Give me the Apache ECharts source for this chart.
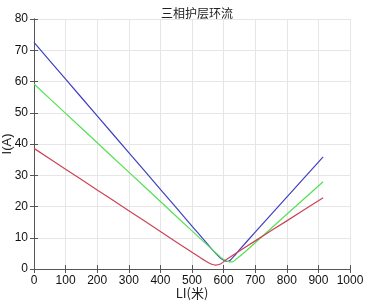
<!DOCTYPE html>
<html>
<head>
<meta charset="utf-8">
<script src="https://cdn.jsdelivr.net/npm/echarts@6/dist/echarts.min.js"></script>
<style>
  html, body { margin: 0; padding: 0; background: #fff; }
  #chart { width: 366px; height: 303px; }
</style>
</head>
<body>
<div id="chart"></div>
<script>
// 三相护层环流 数据 (LI 米, I 安)
const blueData = [[0,72.5],[100,60.75],[200,49.0],[300,37.25],[400,25.5],[500,13.75],[560,6.7],[590,3.5],[602,2.7],[612,2.4],[622,2.9],[635,4.3],[650,6.1],[700,11.8],[800,23.0],[915,35.9]];
const greenData = [[0,59.2],[100,49.8],[200,40.4],[300,31.0],[400,21.6],[500,12.2],[560,6.6],[590,3.8],[605,2.8],[618,2.3],[628,2.25],[640,3.2],[660,4.8],[700,8.4],[800,17.5],[915,27.9]];
const redData = [[0,38.6],[100,31.95],[200,25.3],[300,18.65],[400,12.0],[500,5.35],[540,2.7],[560,1.6],[575,1.25],[590,1.6],[610,3.1],[700,9.0],[800,15.4],[915,22.8]];
const xTicks = [0, 1000, 100];
const yTicks = [0, 80, 10];

const chart = echarts.init(document.getElementById('chart'));
const font = 'Liberation Sans, Arial, sans-serif';
const frame = { show: true, lineStyle: { color: '#555', width: 1 } };
const tick = { show: true, inside: true, length: 4, lineStyle: { color: '#555' } };
const label = { fontSize: 12, color: '#111', fontFamily: font, margin: 6, formatter: v => String(v) };

chart.setOption({
  animation: false,
  title: {
    text: '三相护层环流',
    left: 192, top: 2, textAlign: 'center',
    textStyle: { fontSize: 12, fontWeight: 'normal', color: '#222', fontFamily: 'Noto Sans CJK SC' }
  },
  grid: { left: 34, right: 16, top: 19, bottom: 34, containLabel: false, outerBoundsMode: 'none' },
  xAxis: [{
    type: 'value', min: xTicks[0], max: xTicks[1], interval: xTicks[2],
    name: 'LI(米)', nameLocation: 'middle', nameGap: 18, nameMoveOverlap: false,
    nameTextStyle: { fontSize: 13, color: '#222', fontFamily: 'Noto Sans CJK SC' },
    axisLine: frame, axisTick: tick, axisLabel: label,
    splitLine: { show: true, lineStyle: { color: '#e6e6e6' } }
  }, {
    type: 'value', position: 'top', min: xTicks[0], max: xTicks[1], interval: xTicks[2],
    axisLine: frame, axisTick: tick, axisLabel: { show: false }, splitLine: { show: false }
  }],
  yAxis: [{
    type: 'value', min: yTicks[0], max: yTicks[1], interval: yTicks[2],
    name: 'I(A)', nameLocation: 'middle', nameGap: 20, nameMoveOverlap: false,
    nameTextStyle: { fontSize: 13, color: '#222', fontFamily: font },
    axisLine: frame, axisTick: tick, axisLabel: label,
    splitLine: { show: true, lineStyle: { color: '#e6e6e6' } }
  }, {
    type: 'value', position: 'right', min: yTicks[0], max: yTicks[1], interval: yTicks[2],
    axisLine: frame, axisTick: tick, axisLabel: { show: false }, splitLine: { show: false }
  }],
  series: [
    { type: 'line', data: blueData, showSymbol: false, smooth: 0.2, lineStyle: { color: '#4040c0', width: 1.2 } },
    { type: 'line', data: greenData, showSymbol: false, smooth: 0.2, lineStyle: { color: '#55e055', width: 1.2 } },
    { type: 'line', data: redData, showSymbol: false, smooth: 0.2, lineStyle: { color: '#cc4455', width: 1.2 } }
  ]
});
</script>
</body>
</html>
